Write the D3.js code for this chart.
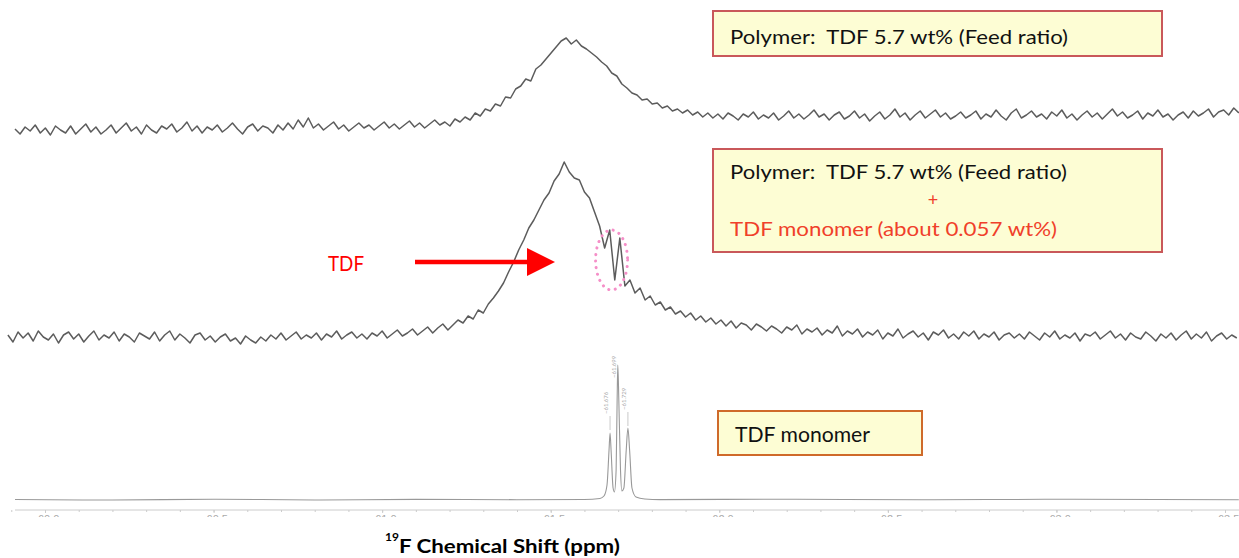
<!DOCTYPE html>
<html>
<head>
<meta charset="utf-8">
<title>19F NMR</title>
<script src="https://d3js.org/d3.v7.min.js"></script>
<style>
  body { margin: 0; background: #fff; }
  svg { display: block; font-family: "Lato", "Open Sans", sans-serif; }
</style>
</head>
<body>
<svg width="1239" height="558"></svg>
<script>
// ppm axis
var ppmTicks = [-60.0, -60.5, -61.0, -61.5, -62.0, -62.5, -63.0, -63.5];
var ppmStep = 0.015;

// polymer only (top trace), evenly sampled from topStart
var topStart = -59.911;
var topVals = [
  2, -3, 4, 0, 6, -2, 3, -4, 5, 1,
  -2, 5, -3, 2, 7, -1, 4, -3, 1, 6,
  -2, 3, 8, 0, 4, -3, 6, 1, -2, 5,
  2, 7, -1, 3, 9, 0, 5, -2, 4, 1,
  6, -1, 3, 8, 2, -3, 4, 7, 0, 5,
  3, -2, 6, 1, 8, 2, 11, 4, 13, 3,
  7, 1, 5, 9, 2, 6, 0, 4, 8, 3,
  6, 1, 5, 9, 3, 7, 2, 6, 10, 4,
  8, 3, 7, 11, 6, 9, 5, 12, 9, 14,
  11, 18, 15, 22, 20, 27, 25, 34, 33, 42,
  45, 52, 50, 62, 66, 72, 78, 84, 90, 93,
  87, 91, 85, 82, 78, 74, 69, 65, 58, 55,
  47, 43, 38, 36, 31, 32, 27, 28, 23, 25,
  20, 22, 18, 21, 16, 19, 14, 18, 13, 17,
  12, 18, 15, 11, 17, 14, 19, 12, 16, 13,
  18, 11, 15, 20, 13, 17, 12, 16, 21, 14,
  17, 11, 16, 19, 12, 15, 20, 13, 17, 10,
  15, 19, 12, 16, 22, 14, 18, 11, 16, 20,
  13, 17, 21, 14, 18, 12, 15, 19, 13, 16,
  20, 12, 17, 14, 21, 15, 11, 18, 22, 13,
  16, 20, 14, 17, 12, 19, 15, 21, 13, 17,
  11, 16, 20, 14, 18, 12, 17, 22, 15, 19,
  13, 16, 20, 12, 18, 15, 21, 14, 17, 11,
  16, 19, 13, 20, 15, 18, 22, 14, 19, 21,
  16, 23, 18
];

// polymer + monomer (middle trace)
var midStart = -59.890;
var midVals = [
  3, -4, 6, 0, 5, -3, 7, 1, -2, 4,
  -5, 3, 6, -1, 4, -4, 2, 7, -2, 3,
  0, 6, -3, 4, 1, -4, 5, 2, -1, 6,
  -3, 3, 7, -2, 4, 0, -5, 3, 5, -2,
  2, -4, 1, 4, -3, 0, -6, 2, -2, -5,
  1, -3, 3, -1, 5, -2, 2, 6, -1, 3,
  0, 5, -2, 4, 1, 7, -1, 3, 6, 0,
  4, -1, 5, 2, 7, 0, 4, 8, 2, 5,
  9, 3, 7, 11, 5, 10, 14, 8, 13, 18,
  15, 22, 19, 28, 25, 34, 40, 47, 55, 66,
  76, 88, 98, 110, 118, 128, 138, 145, 157, 164,
  176, 166, 160, 158, 146, 140, 126, 112, 90, 108,
  58, 100, 52, 58, 45, 50, 38, 42, 33, 36,
  28, 31, 24, 27, 21, 25, 18, 22, 16, 20,
  14, 18, 12, 17, 10, 15, 13, 8, 14, 11,
  7, 12, 9, 5, 11, 8, 13, 4, 9, 6,
  10, 3, 8, 5, 12, 2, 7, 4, 9, 1,
  6, 3, 8, -1, 5, 2, 9, 0, 4, 7,
  1, 5, -2, 6, 3, 8, 0, 4, -1, 6,
  2, 7, -1, 4, 1, 6, -2, 3, 5, 0,
  4, -1, 6, 2, -2, 5, 1, 7, -1, 3,
  0, 5, -3, 4, 2, 6, -1, 3, 7, 0,
  4, -2, 5, 1, -1, 6, 2, -3, 4, 0,
  5, -2, 3, 7, -1, 4, 0, 6, -3, 2,
  5, -1, 3, 0
];

// TDF monomer (bottom trace)
var monoPpm = [-59.911, -60.2, -60.5, -60.8, -61.1, -61.4, -61.6, -61.646, -61.658, -61.667,
  -61.673, -61.676, -61.679, -61.685, -61.689, -61.694, -61.697, -61.699, -61.702, -61.707,
  -61.711, -61.717, -61.724, -61.729, -61.734, -61.741, -61.753, -61.779, -61.824, -62.2,
  -62.6, -63.0, -63.541];
var monoVals = [0.5, 0, 0.8, 0, 0.6, 0.3, 0.5, 1.5, 4, 15,
  50, 67, 50, 12, 8, 30, 100, 135, 100, 30,
  9, 12, 50, 72, 50, 12, 3, 1, 0.4, 0.8,
  0.2, 0.7, 0.3];
var monoPeaks = [-61.676, -61.699, -61.729];

var svg = d3.select("svg");

var x = d3.scaleLinear().domain([-60.0, -63.5]).range([45, 1225]);
var yTop = d3.scaleLinear().domain([0, 93]).range([131, 38]);
var yMid = d3.scaleLinear().domain([0, 176]).range([338, 162]);
var yMono = d3.scaleLinear().domain([0, 135]).range([500, 365]);

function grid(start, vals) {
  return vals.map(function(v, i) { return [start - i * ppmStep, v]; });
}

var topData = grid(topStart, topVals);
var midData = grid(midStart, midVals);
var monoData = monoPpm.map(function(p, i) { return [p, monoVals[i]]; });

svg.append("path")
  .datum(topData)
  .attr("fill", "none")
  .attr("stroke", "#5c5c5c")
  .attr("stroke-width", 1.5)
  .attr("stroke-linejoin", "round")
  .attr("d", d3.line().x(function(d) { return x(d[0]); }).y(function(d) { return yTop(d[1]); }));

svg.append("path")
  .datum(midData)
  .attr("fill", "none")
  .attr("stroke", "#5c5c5c")
  .attr("stroke-width", 1.5)
  .attr("stroke-linejoin", "round")
  .attr("d", d3.line().x(function(d) { return x(d[0]); }).y(function(d) { return yMid(d[1]); }));

svg.append("path")
  .datum(monoData)
  .attr("fill", "none")
  .attr("stroke", "#999")
  .attr("stroke-width", 1.1)
  .attr("d", d3.line().curve(d3.curveMonotoneX).x(function(d) { return x(d[0]); }).y(function(d) { return yMono(d[1]); }));

// peak pick labels
var peakLab = svg.append("g").attr("fill", "#aaa").attr("font-size", "6px");
monoPeaks.forEach(function(p, i) {
  var px = x(p);
  var ly = i == 1 ? 378 : (i == 0 ? 414 : 410);
  peakLab.append("text")
    .attr("transform", "translate(" + (px - 2) + "," + ly + ") rotate(-90)")
    .text(d3.format(".3f")(p));
  if (i != 1) {
    svg.append("line")
      .attr("x1", px).attr("x2", px)
      .attr("y1", ly + 2).attr("y2", ly + 16)
      .attr("stroke", "#bbb").attr("stroke-width", 0.8);
  }
});

// axis, cut off at the bottom like the scan
svg.append("clipPath").attr("id", "axclip")
  .append("rect").attr("x", 0).attr("y", 500).attr("width", 1239).attr("height", 17);

var axG = svg.append("g").attr("clip-path", "url(#axclip)");

axG.append("g")
  .attr("transform", "translate(0,510)")
  .call(d3.axisBottom(x).tickValues(d3.range(-59.9, -63.55, -0.1)).tickSize(2).tickFormat(""))
  .call(function(g) {
    g.select(".domain").remove();
    g.selectAll("line").attr("stroke", "#ccc");
  });

var ax = axG.append("g")
  .attr("transform", "translate(0,510)")
  .call(d3.axisBottom(x).tickValues(ppmTicks).tickSize(3).tickPadding(2).tickFormat(d3.format(".1f")));
ax.select(".domain").attr("stroke", "#ccc").attr("d", "M15,0H1239");
ax.selectAll("line").attr("stroke", "#ccc");
ax.selectAll("text").attr("fill", "#aaa").attr("font-size", "11px").attr("font-family", "Liberation Sans");

// boxes
function box(x0, y0, w, h, stroke) {
  svg.append("rect")
    .attr("x", x0).attr("y", y0).attr("width", w).attr("height", h)
    .attr("fill", "#fdfdd4").attr("stroke", stroke).attr("stroke-width", 2);
}
function label(t, x0, y0, w, color, size) {
  svg.append("text")
    .attr("x", x0).attr("y", y0)
    .attr("fill", color).attr("font-size", size + "px")
    .attr("textLength", w).attr("lengthAdjust", "spacingAndGlyphs")
    .style("white-space", "pre")
    .text(t);
}

box(713, 11, 449, 45, "#c9585a");
label("Polymer:  TDF 5.7 wt% (Feed ratio)", 730, 44, 338, "#111", 20);

box(713, 149, 449, 103, "#c9585a");
label("Polymer:  TDF 5.7 wt% (Feed ratio)", 730, 179, 337, "#111", 20);
svg.append("text").attr("x", 933).attr("y", 206).attr("text-anchor", "middle")
  .attr("fill", "#f0402a").attr("font-size", "18px").text("+");
label("TDF monomer (about 0.057 wt%)", 730, 236, 327, "#f0402a", 20);

box(718, 411, 204, 44, "#cf6a2a");
label("TDF monomer", 735, 442, 135, "#111", 21);

// TDF arrow
svg.append("text").attr("x", 328).attr("y", 271)
  .attr("fill", "#f00").attr("font-size", "21px")
  .attr("textLength", 36).attr("lengthAdjust", "spacingAndGlyphs").text("TDF");
svg.append("line").attr("x1", 415).attr("x2", 530).attr("y1", 262).attr("y2", 262)
  .attr("stroke", "#f00").attr("stroke-width", 4.5);
svg.append("path").attr("d", "M527,248L555,262L527,276Z").attr("fill", "#f00");

// dotted ellipse round the monomer doublet
svg.append("ellipse").attr("cx", x(-61.6805)).attr("cy", 260).attr("rx", 16).attr("ry", 30)
  .attr("fill", "none").attr("stroke", "#f58fc8").attr("stroke-width", 3)
  .attr("stroke-linecap", "round").attr("stroke-dasharray", "0.1 6.5");

// axis title
svg.append("text").attr("x", 385).attr("y", 541)
  .attr("font-size", "12px").attr("font-weight", "bold").attr("fill", "#000").text("19");
svg.append("text").attr("x", 399).attr("y", 553)
  .attr("font-size", "19px").attr("font-weight", "bold").attr("fill", "#000")
  .attr("textLength", 221).attr("lengthAdjust", "spacingAndGlyphs")
  .text("F Chemical Shift (ppm)");
</script>
</body>
</html>
